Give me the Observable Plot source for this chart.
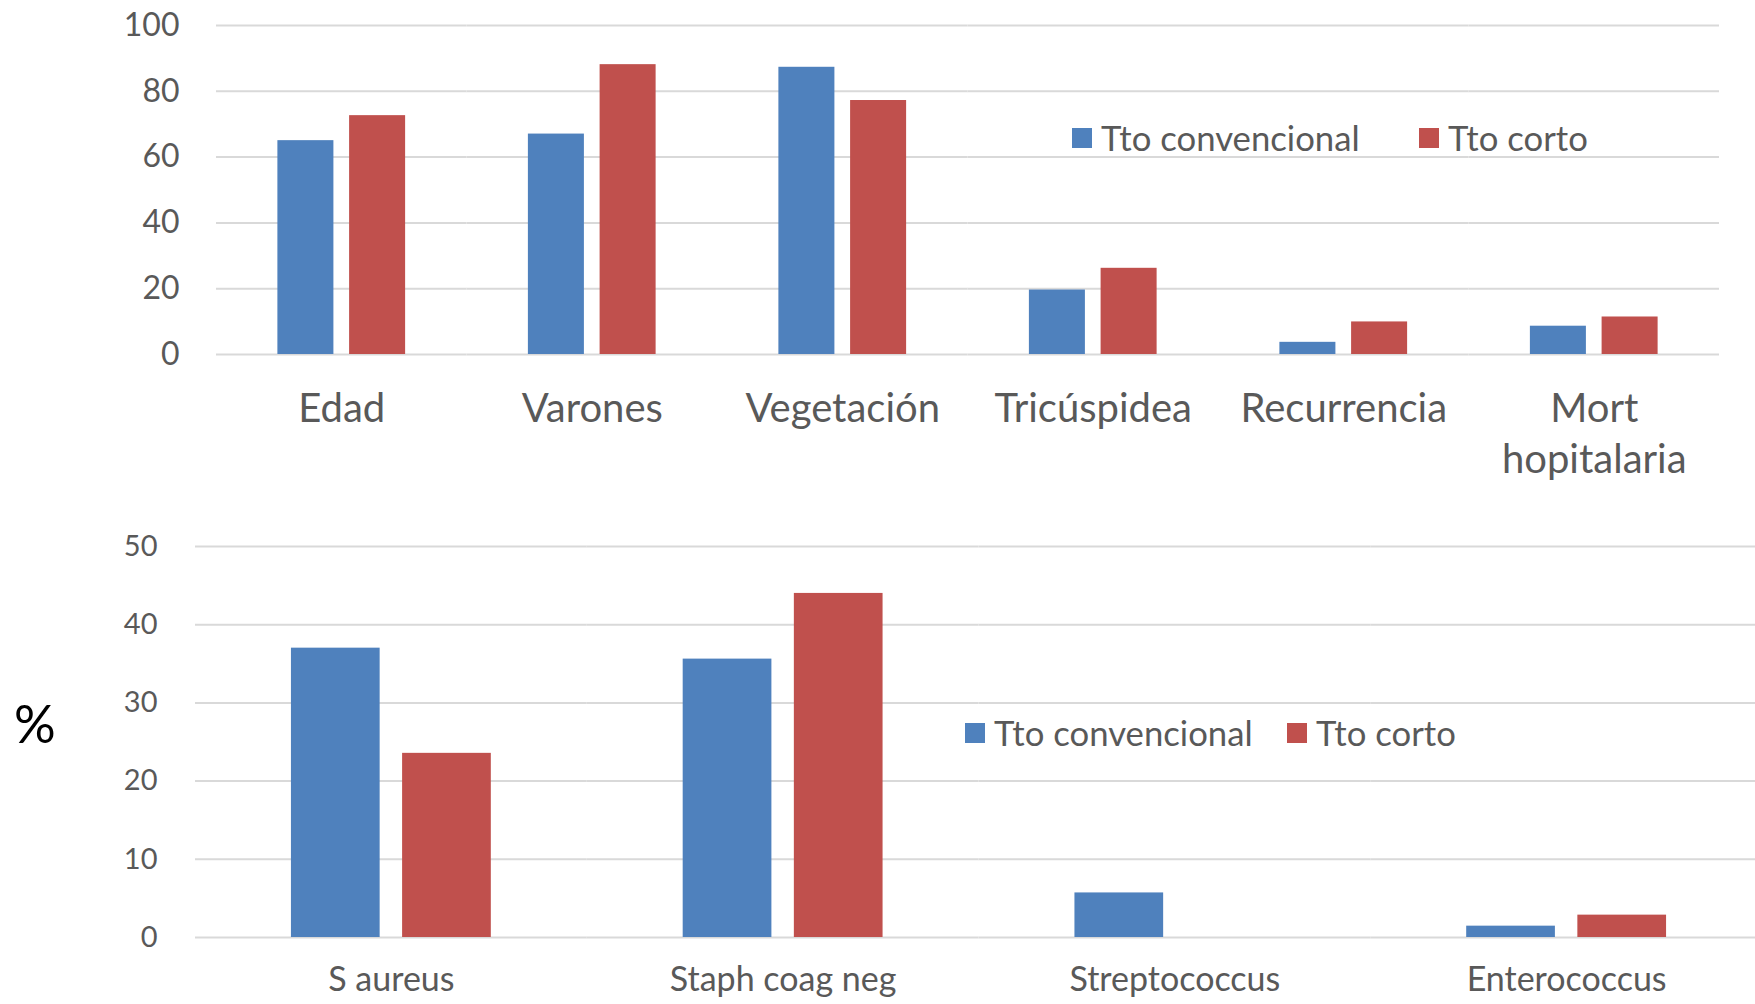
<!DOCTYPE html>
<html>
<head>
<meta charset="utf-8">
<script src="https://cdn.jsdelivr.net/npm/d3@7"></script>
<script src="https://cdn.jsdelivr.net/npm/@observablehq/plot@0.6"></script>
<style>
  body { margin: 0; background: #fff; font-family: Lato, sans-serif; }
  #wrap { position: relative; width: 1755px; height: 1004px; overflow: hidden; background: #fff; }
  #top { position: absolute; left: 0; top: 0; }
  #bottom { position: absolute; left: 0; top: 490px; width: 1762px; }
  #wrap svg { max-width: none !important; }
  .leg { position: absolute; display: flex; align-items: center; color: #595959; font-size: 34px; white-space: nowrap; line-height: 1; }
  .sw { width: 20px; height: 20px; margin-right: 9px; flex: none; }
  #pct { position: absolute; left: 14px; top: 697px; font-size: 52px; color: #000; line-height: 1; }
</style>
</head>
<body>
<div id="wrap">
  <div id="top"></div>
  <div id="bottom"></div>
  <div id="pct">%</div>
</div>
<script>
// ---- data ----
const series = ["Tto convencional", "Tto corto"];
const seriesColors = ["#4f81bd", "#c0504d"];

const topCategories = ["Edad", "Varones", "Vegetación", "Tricúspidea", "Recurrencia", "Mort\nhopitalaria"];
const topConvencional = [65, 67, 87.3, 19.6, 3.7, 8.6];
const topCorto = [72.6, 88.1, 77.2, 26.2, 9.9, 11.4];
const topTicks = [0, 20, 40, 60, 80, 100];

const bottomCategories = ["S aureus", "Staph coag neg", "Streptococcus", "Enterococcus"];
const bottomConvencional = [37, 35.6, 5.7, 1.45];
const bottomCorto = [23.55, 44, 0, 2.86];
const bottomTicks = [0, 10, 20, 30, 40, 50];

// ---- build tables ----
function table(cats, a, b) {
  return cats.flatMap((c, i) => [
    {category: c, series: series[0], value: a[i]},
    {category: c, series: series[1], value: b[i]}
  ]);
}

function chart(o) {
  return Plot.plot({
    width: o.width,
    height: o.height,
    marginTop: o.marginTop,
    marginBottom: o.marginBottom,
    marginLeft: o.marginLeft,
    marginRight: o.marginRight,
    style: {fontFamily: "Lato, sans-serif", color: "#595959", background: "transparent", overflow: "visible", maxWidth: "none"},
    fx: {domain: o.cats, padding: 0, round: false},
    x: {domain: series, paddingInner: o.pi, paddingOuter: o.po, round: false, axis: null},
    y: {domain: [0, o.ticks[o.ticks.length - 1]]},
    color: {domain: series, range: seriesColors},
    marks: [
      Plot.gridY(o.ticks, {stroke: "#d9d9d9", strokeOpacity: 1, strokeWidth: 2}),
      Plot.barY(o.data, {fx: "category", x: "series", y: "value", fill: "series"}),
      Plot.axisY(o.ticks, {tickSize: 0, tickPadding: o.yPad, fontSize: o.tickFont, label: null, fill: "#595959"}),
      Plot.axisFx({anchor: "bottom", tickSize: 0, tickPadding: o.xPad, fontSize: o.labelFont, lineHeight: 1.28, label: null, fill: "#595959"})
    ]
  });
}

document.getElementById("top").append(chart({
  data: table(topCategories, topConvencional, topCorto),
  cats: topCategories, ticks: topTicks,
  width: 1755, height: 490, marginTop: 25, marginBottom: 136, marginLeft: 216, marginRight: 36,
  pi: 0.219, po: 0.856, tickFont: 32, labelFont: 40, yPad: 37, xPad: 31
}));

document.getElementById("bottom").append(chart({
  data: table(bottomCategories, bottomConvencional, bottomCorto),
  cats: bottomCategories, ticks: bottomTicks,
  width: 1762, height: 514, marginTop: 56, marginBottom: 67, marginLeft: 195, marginRight: 0,
  pi: 0.202, po: 0.863, tickFont: 29, labelFont: 34, yPad: 38, xPad: 23
}));

// ---- legends ----
function legend(items) {
  const wrap = document.getElementById("wrap");
  items.forEach((it, i) => {
    const d = document.createElement("div");
    d.className = "leg";
    d.style.left = it.left + "px";
    d.style.top = it.top + "px";
    d.style.fontSize = it.size + "px";
    const sw = document.createElement("div");
    sw.className = "sw";
    sw.style.background = seriesColors[i];
    const t = document.createElement("span");
    t.textContent = series[i];
    d.append(sw, t);
    wrap.append(d);
  });
}
legend([{left: 1072, top: 121, size: 34.7}, {left: 1419, top: 121, size: 34.7}]);
legend([{left: 965, top: 716, size: 34.7}, {left: 1287, top: 716, size: 34.7}]);
</script>
</body>
</html>
